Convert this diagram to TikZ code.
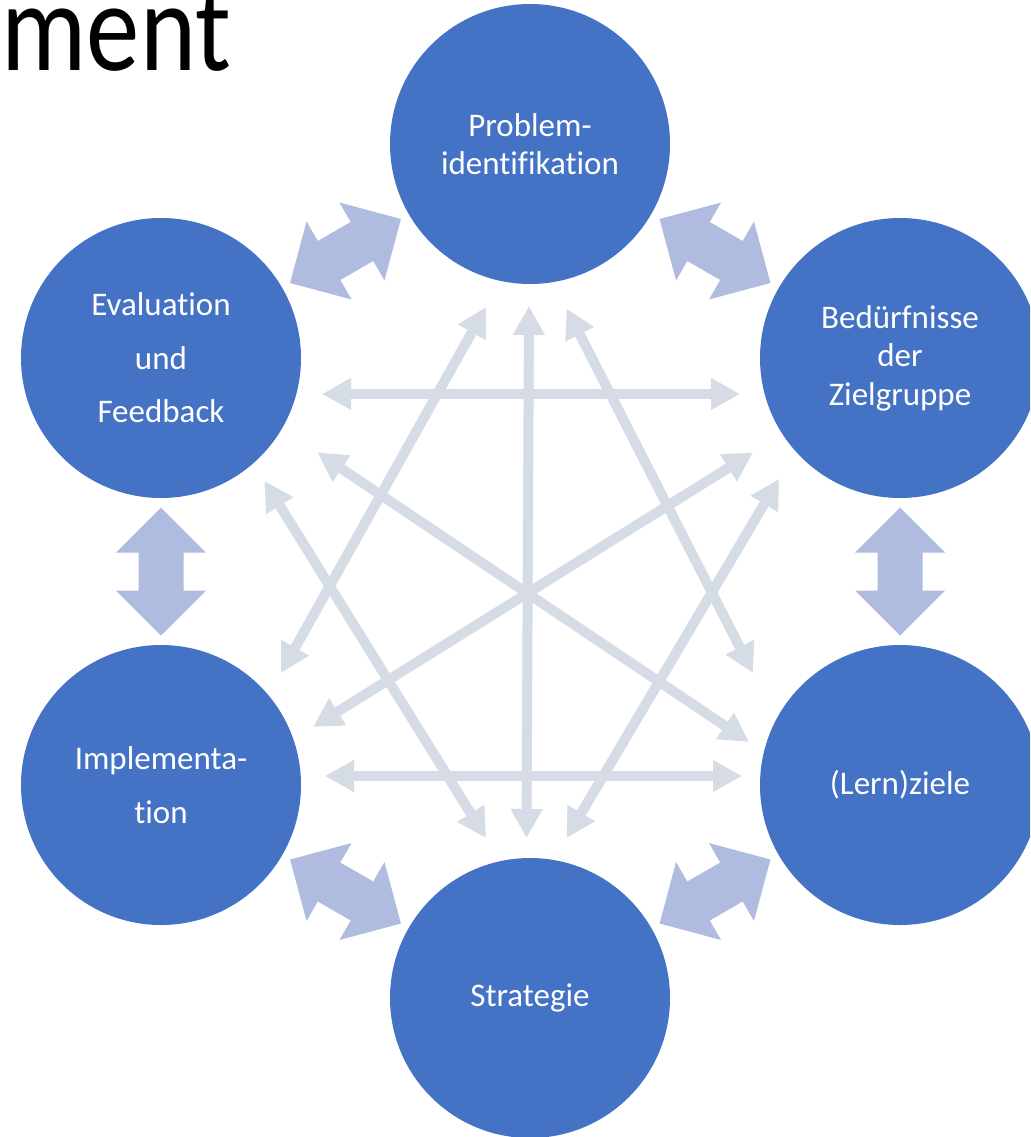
\documentclass[tikz,border=0pt]{standalone}
\usepackage{fontspec}
\setmainfont{Carlito}[Ligatures=NoCommon]
\usetikzlibrary{arrows.meta,calc}
\definecolor{circfill}{HTML}{4472C4}
\definecolor{blockcol}{HTML}{B0BCDF}
\definecolor{linkcol}{HTML}{D6DCE5}
\tikzset{
  topic/.style={circle, fill=circfill, draw=none, minimum size=280pt, inner sep=0pt,
    text=white, align=center, font=\fontsize{33}{38.5}\selectfont},
  widetopic/.style={topic, font=\fontsize{33}{53.5}\selectfont},
  link/.style={draw=linkcol, line width=10pt,
    {Triangle[length=29pt,width=30pt]}-{Triangle[length=29pt,width=30pt]}},
  barr/.pic={\fill[blockcol] (-64,0) -- (-19,45) -- (-19,22.5) -- (19,22.5) -- (19,45)
      -- (64,0) -- (19,-45) -- (19,-22.5) -- (-19,-22.5) -- (-19,-45) -- cycle;}
}
\begin{document}
\begin{tikzpicture}[x=1pt,y=-1pt]
\useasboundingbox (0,0) rectangle (1030,1137);
\clip (0,0) rectangle (1030,1137);
\fill[white] (0,0) rectangle (1030,1137);

% title fragment
\node[font=\fontsize{127}{127}\selectfont, xscale=0.84, anchor=base east, inner sep=0pt] (title) at (231,71) {ment};

% circles
\node[topic] (prob) at (530,144) {Problem-\\identifikation};
\node[topic] (bed) at (900,358) {Bedürfnisse\\der\\Zielgruppe};
\node[widetopic] (eval) at (161,358) {Evaluation\\und\\Feedback};
\node[widetopic] (impl) at (161,785) {Implementa-\\tion};
\node[topic] (lern) at (900,785) {(Lern)ziele};
\node[topic] (strat) at (530,998) {Strategie};

% block arrows between neighbours
\path ($(eval)!0.5!(prob)$) pic[rotate=30] {barr};
\path ($(prob)!0.5!(bed)$) pic[rotate=-30] {barr};
\path ($(bed)!0.5!(lern)$) pic[rotate=90] {barr};
\path ($(eval)!0.5!(impl)$) pic[rotate=90] {barr};
\path ($(impl)!0.5!(strat)$) pic[rotate=-30] {barr};
\path ($(strat)!0.5!(lern)$) pic[rotate=30] {barr};

% end points of the thin connectors
\coordinate (eb1) at (322,394);   \coordinate (eb2) at (740,394);
\coordinate (il1) at (325,776);   \coordinate (il2) at (742,776);
\coordinate (ps1) at (529,306);   \coordinate (ps2) at (526.5,838);
\coordinate (pi1) at (486,307);   \coordinate (pi2) at (281,673);
\coordinate (pl1) at (566.5,308.5); \coordinate (pl2) at (753,673);
\coordinate (es1) at (264.5,481); \coordinate (es2) at (486,838);
\coordinate (bs1) at (779,479);   \coordinate (bs2) at (566.5,838);
\coordinate (el1) at (317.5,452.5); \coordinate (el2) at (749,742);
\coordinate (bi1) at (753,452.5); \coordinate (bi2) at (313,727);

\draw[link] (eb1) -- (eb2);
\draw[link] (il1) -- (il2);
\draw[link] (ps1) -- (ps2);
\draw[link] (pi1) -- (pi2);
\draw[link] (pl1) -- (pl2);
\draw[link] (es1) -- (es2);
\draw[link] (bs1) -- (bs2);
\draw[link] (el1) -- (el2);
\draw[link] (bi1) -- (bi2);
\end{tikzpicture}
\end{document}
